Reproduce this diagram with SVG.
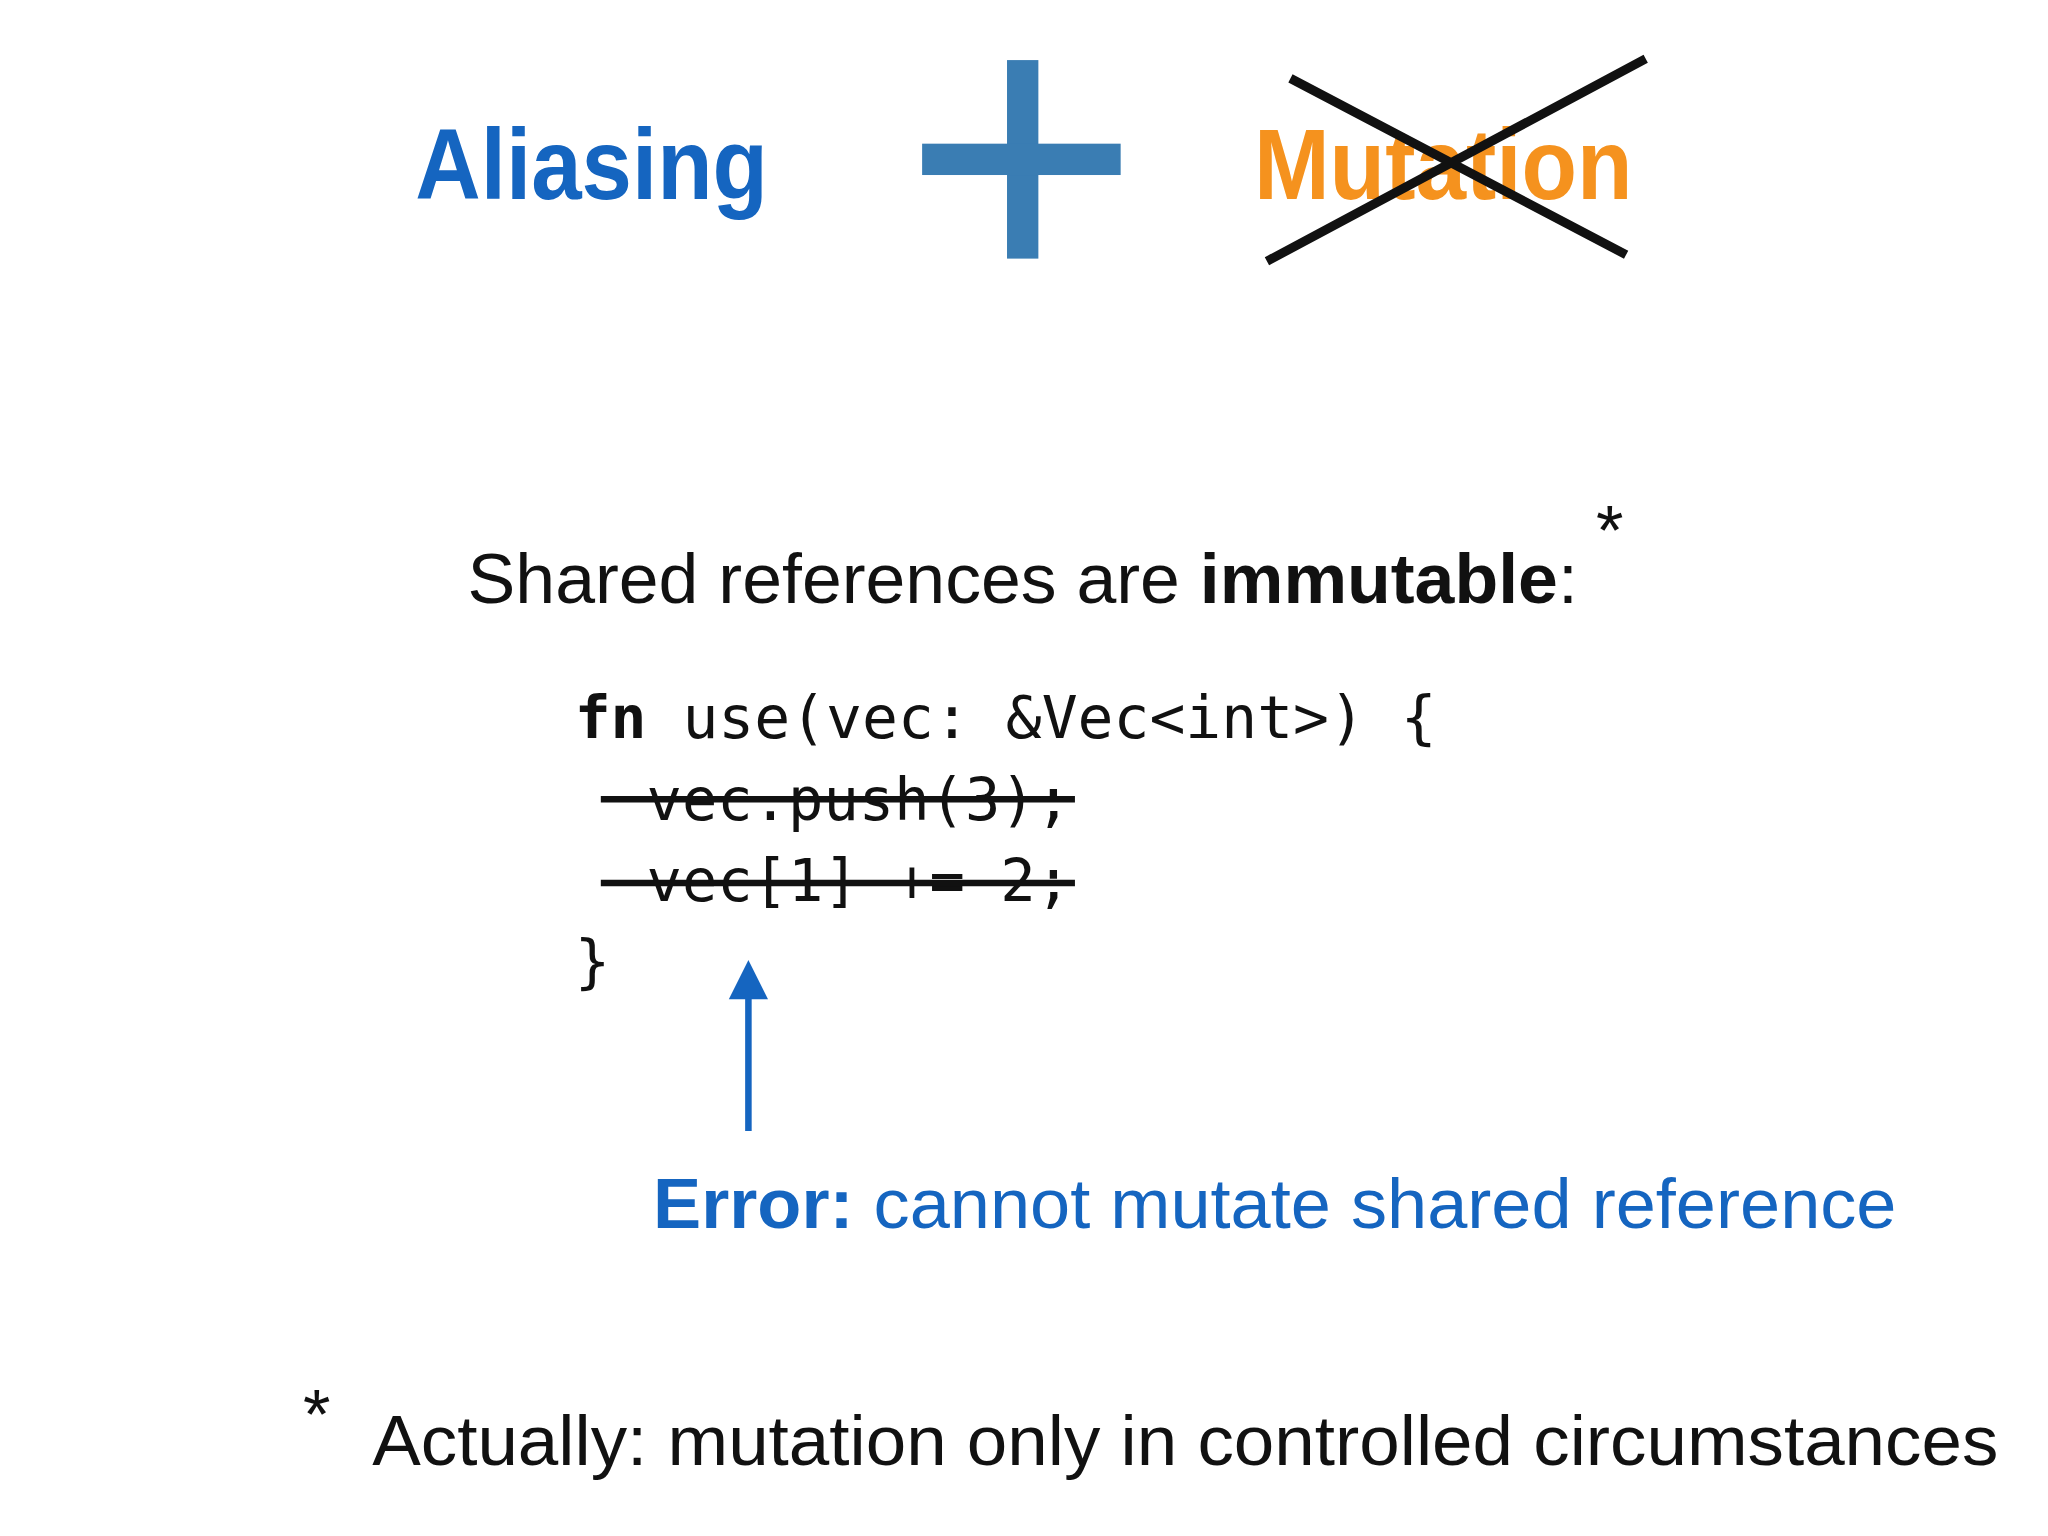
<svg xmlns="http://www.w3.org/2000/svg" width="2048" height="1536" viewBox="0 0 2048 1536">
<style>
.h{font-family:"Liberation Sans",Arial,sans-serif;font-weight:bold;font-size:76px}
.t{font-family:"Liberation Sans",Arial,sans-serif;font-size:54px;fill:#111}
.c{font-family:"DejaVu Sans Mono","Liberation Mono",monospace;font-size:45px;fill:#111}
.s{stroke:#111;stroke-width:5;fill:none}
</style>
<rect width="2048" height="1536" fill="#fff"/>
<g transform="scale(1.30612)">
<g id="aliasing"><text class="h" x="318" y="152" fill="#1565c0" textLength="270" lengthAdjust="spacingAndGlyphs">Aliasing</text></g>
<g id="plus" fill="#3a7db3"><rect x="771" y="46" width="24" height="152"/><rect x="706" y="110" width="152" height="24"/></g>
<g id="mutation"><text class="h" x="960" y="152" fill="#f5921e" textLength="290" lengthAdjust="spacingAndGlyphs">Mutation</text>
<path d="M988 60 L1245 195 M1260 45 L970 200" stroke="#111" stroke-width="7" fill="none"/></g>
<g id="shared"><text class="t" x="358" y="462" textLength="850" lengthAdjust="spacingAndGlyphs">Shared references are <tspan font-weight="bold">immutable</tspan>:</text>
<text class="t" x="1222" y="425" font-size="36">*</text></g>
<g id="code">
<text class="c" x="440" y="565" textLength="660" lengthAdjust="spacingAndGlyphs"><tspan font-weight="bold">fn</tspan> use(vec: &amp;Vec&lt;int&gt;) {</text>
<text class="c" x="495" y="628">vec.push(3);</text>
<text class="c" x="495" y="690">vec[1] += 2;</text>
<text class="c" x="440" y="752">}</text>
<path class="s" d="M460 612 L823 612 M460 676 L823 676"/>
</g>
<g id="connectors"><path d="M573 866 L573 762" stroke="#1565c0" stroke-width="5"/><path d="M558 765 L573 735 L588 765 Z" fill="#1565c0"/></g>
<g id="error"><text class="t" x="500" y="940" fill="#1565c0" style="fill:#1565c0" textLength="952" lengthAdjust="spacingAndGlyphs"><tspan font-weight="bold">Error:</tspan> cannot mutate shared reference</text></g>
<g id="footnote"><text class="t" x="232" y="1102" font-size="30">*</text>
<text class="t" x="285" y="1122" textLength="1245" lengthAdjust="spacingAndGlyphs">Actually: mutation only in controlled circumstances</text></g>
</g>
</svg>
